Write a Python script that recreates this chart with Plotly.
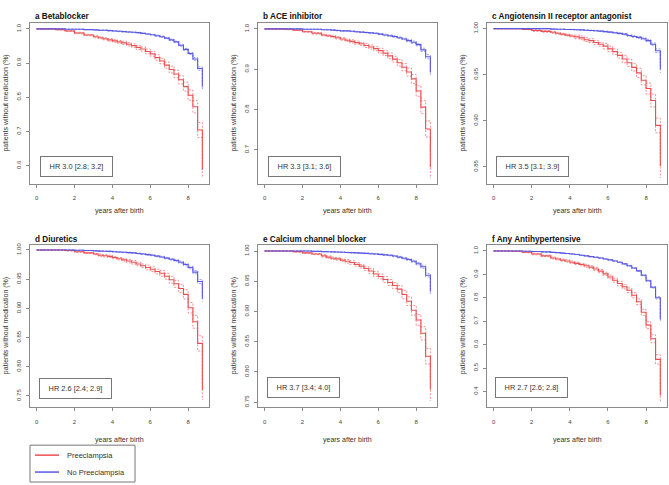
import plotly.graph_objects as go

# time points (years after birth) at which the step curves change
T = [0, 0.5, 1.0, 1.5, 2.0, 2.5, 3.0, 3.25, 3.5, 3.75, 4.0, 4.25, 4.5, 4.75, 5.0,
     5.25, 5.5, 5.75, 6.0, 6.25, 6.5, 6.75, 7.0, 7.25, 7.5, 7.75, 8.0, 8.25, 8.5, 8.75]

panel_titles = ["a Betablocker", "b ACE inhibitor", "c Angiotensin II receptor antagonist",
                "d Diuretics", "e Calcium channel blocker", "f Any Antihypertensive"]
hr_labels = ["HR 3.0 [2.8; 3.2]", "HR 3.3 [3.1; 3.6]", "HR 3.5 [3.1; 3.9]",
             "HR 2.6 [2.4; 2.9]", "HR 3.7 [3.4; 4.0]", "HR 2.7 [2.6; 2.8]"]
series_names = ["Preeclampsia", "No Preeclampsia"]

# Preeclampsia survival (patients without medication)
pe_a = [1.000, 1.000, 0.998, 0.994, 0.988, 0.982, 0.977, 0.974, 0.971, 0.968, 0.965, 0.962, 0.959, 0.955, 0.951,
        0.946, 0.941, 0.934, 0.927, 0.916, 0.906, 0.894, 0.881, 0.868, 0.851, 0.831, 0.806, 0.772, 0.704, 0.588]
pe_b = [1.000, 1.000, 0.999, 0.997, 0.993, 0.989, 0.985, 0.983, 0.981, 0.978, 0.975, 0.972, 0.969, 0.966, 0.963,
        0.959, 0.955, 0.951, 0.946, 0.940, 0.933, 0.925, 0.916, 0.905, 0.893, 0.876, 0.846, 0.806, 0.752, 0.657]
pe_c = [1.000, 1.000, 1.000, 0.999, 0.998, 0.997, 0.996, 0.995, 0.994, 0.993, 0.992, 0.991, 0.990, 0.988, 0.987,
        0.985, 0.983, 0.981, 0.978, 0.975, 0.971, 0.967, 0.963, 0.958, 0.952, 0.944, 0.935, 0.922, 0.895, 0.851]
pe_d = [1.000, 1.000, 1.000, 0.999, 0.997, 0.995, 0.993, 0.991, 0.990, 0.989, 0.987, 0.985, 0.983, 0.981, 0.979,
        0.976, 0.973, 0.970, 0.967, 0.963, 0.960, 0.955, 0.949, 0.942, 0.934, 0.924, 0.901, 0.877, 0.840, 0.760]
pe_e = [1.000, 1.000, 1.000, 0.999, 0.997, 0.995, 0.992, 0.990, 0.988, 0.987, 0.985, 0.983, 0.981, 0.978, 0.975,
        0.971, 0.967, 0.962, 0.958, 0.953, 0.948, 0.943, 0.937, 0.928, 0.917, 0.902, 0.886, 0.864, 0.826, 0.771]
pe_f = [1.000, 1.000, 0.999, 0.995, 0.987, 0.979, 0.970, 0.966, 0.961, 0.957, 0.952, 0.947, 0.942, 0.937, 0.931,
        0.923, 0.914, 0.902, 0.889, 0.875, 0.861, 0.847, 0.832, 0.811, 0.783, 0.738, 0.683, 0.625, 0.537, 0.382]

# Preeclampsia confidence-interval half widths
pe_ci_a = [0, 0, 0.001, 0.001, 0.002, 0.002, 0.003, 0.003, 0.003, 0.004, 0.004, 0.004, 0.005, 0.005, 0.005,
           0.006, 0.006, 0.007, 0.007, 0.008, 0.008, 0.009, 0.010, 0.011, 0.012, 0.013, 0.015, 0.018, 0.022, 0.025]
pe_ci_b = [0, 0, 0.001, 0.001, 0.001, 0.002, 0.002, 0.002, 0.003, 0.003, 0.003, 0.003, 0.004, 0.004, 0.004,
           0.005, 0.005, 0.005, 0.006, 0.006, 0.007, 0.007, 0.008, 0.009, 0.010, 0.011, 0.013, 0.016, 0.020, 0.028]
pe_ci_c = [0, 0, 0, 0, 0.001, 0.001, 0.001, 0.001, 0.001, 0.001, 0.001, 0.002, 0.002, 0.002, 0.002,
           0.002, 0.002, 0.003, 0.003, 0.003, 0.003, 0.004, 0.004, 0.004, 0.005, 0.005, 0.006, 0.007, 0.008, 0.013]
pe_ci_d = [0, 0, 0, 0.001, 0.001, 0.001, 0.001, 0.002, 0.002, 0.002, 0.002, 0.002, 0.002, 0.003, 0.003,
           0.003, 0.003, 0.004, 0.004, 0.004, 0.005, 0.005, 0.006, 0.006, 0.007, 0.008, 0.009, 0.011, 0.013, 0.017]
pe_ci_e = [0, 0, 0, 0.001, 0.001, 0.001, 0.002, 0.002, 0.002, 0.002, 0.002, 0.003, 0.003, 0.003, 0.003,
           0.003, 0.004, 0.004, 0.004, 0.005, 0.005, 0.005, 0.006, 0.007, 0.007, 0.008, 0.009, 0.011, 0.013, 0.019]
pe_ci_f = [0, 0, 0.001, 0.002, 0.003, 0.003, 0.004, 0.004, 0.004, 0.005, 0.005, 0.005, 0.005, 0.006, 0.006,
           0.006, 0.007, 0.007, 0.008, 0.008, 0.009, 0.009, 0.010, 0.011, 0.012, 0.013, 0.015, 0.017, 0.020, 0.025]

# No Preeclampsia survival
np_a = [1.000, 1.000, 1.000, 0.999, 0.999, 0.998, 0.997, 0.996, 0.996, 0.995, 0.994, 0.993, 0.992, 0.991, 0.990,
        0.989, 0.987, 0.985, 0.983, 0.980, 0.977, 0.973, 0.968, 0.962, 0.952, 0.940, 0.928, 0.912, 0.884, 0.831]
np_b = [1.000, 1.000, 1.000, 1.000, 0.999, 0.999, 0.998, 0.998, 0.997, 0.996, 0.995, 0.995, 0.994, 0.993, 0.992,
        0.991, 0.990, 0.989, 0.987, 0.985, 0.983, 0.981, 0.978, 0.975, 0.971, 0.967, 0.961, 0.948, 0.931, 0.892]
np_c = [1.000, 1.000, 1.000, 1.000, 1.000, 1.000, 0.9995, 0.9994, 0.9993, 0.9991, 0.9990, 0.9988, 0.9986, 0.9983, 0.9980,
        0.9977, 0.9973, 0.9968, 0.9962, 0.9955, 0.9948, 0.9940, 0.9925, 0.9915, 0.9905, 0.9890, 0.9870, 0.9830, 0.9760, 0.9560]
np_d = [1.000, 1.000, 1.000, 1.000, 0.9995, 0.999, 0.9985, 0.998, 0.9978, 0.9975, 0.997, 0.9965, 0.996, 0.9955, 0.995,
        0.994, 0.993, 0.992, 0.991, 0.9895, 0.988, 0.986, 0.984, 0.982, 0.979, 0.975, 0.970, 0.962, 0.946, 0.917]
np_e = [1.000, 1.000, 1.000, 1.000, 1.000, 0.9995, 0.999, 0.9988, 0.9986, 0.9983, 0.998, 0.9977, 0.9973, 0.997, 0.9966,
        0.9961, 0.9956, 0.995, 0.9944, 0.9937, 0.993, 0.9918, 0.990, 0.988, 0.986, 0.983, 0.979, 0.974, 0.960, 0.933]
np_f = [1.000, 1.000, 1.000, 0.999, 0.998, 0.996, 0.994, 0.993, 0.991, 0.989, 0.987, 0.985, 0.982, 0.979, 0.976,
        0.973, 0.970, 0.966, 0.962, 0.957, 0.952, 0.945, 0.937, 0.927, 0.915, 0.896, 0.873, 0.845, 0.800, 0.708]

# No Preeclampsia confidence-interval half widths
np_ci_a = [0, 0, 0, 0, 0, 0, 0, 0.001, 0.001, 0.001, 0.001, 0.001, 0.001, 0.001, 0.001,
           0.001, 0.001, 0.001, 0.001, 0.002, 0.002, 0.002, 0.002, 0.002, 0.003, 0.003, 0.003, 0.004, 0.005, 0.008]
np_ci_b = [0, 0, 0, 0, 0, 0, 0, 0.001, 0.001, 0.001, 0.001, 0.001, 0.001, 0.001, 0.001,
           0.001, 0.001, 0.001, 0.001, 0.002, 0.002, 0.002, 0.002, 0.002, 0.003, 0.003, 0.003, 0.004, 0.005, 0.008]
np_ci_c = [0, 0, 0, 0, 0, 0, 0, 0, 0, 0, 0.0003, 0.0003, 0.0003, 0.0004, 0.0004,
           0.0004, 0.0005, 0.0005, 0.0005, 0.0006, 0.0006, 0.0007, 0.0008, 0.0009, 0.0010, 0.0011, 0.0012, 0.0015, 0.0020, 0.0040]
np_ci_d = [0, 0, 0, 0, 0, 0, 0, 0.0005, 0.0005, 0.0005, 0.0006, 0.0006, 0.0006, 0.0007, 0.0007,
           0.0008, 0.0008, 0.0009, 0.0010, 0.0011, 0.0012, 0.0013, 0.0014, 0.0016, 0.0018, 0.0020, 0.0023, 0.0028, 0.0035, 0.0060]
np_ci_e = [0, 0, 0, 0, 0, 0, 0, 0.0004, 0.0004, 0.0004, 0.0005, 0.0005, 0.0005, 0.0006, 0.0006,
           0.0006, 0.0007, 0.0007, 0.0008, 0.0009, 0.0010, 0.0011, 0.0012, 0.0013, 0.0015, 0.0017, 0.0020, 0.0024, 0.0030, 0.0050]
np_ci_f = [0, 0, 0, 0, 0, 0, 0, 0.0005, 0.0005, 0.0006, 0.0006, 0.0007, 0.0007, 0.0008, 0.0008,
           0.0009, 0.0010, 0.0011, 0.0012, 0.0013, 0.0014, 0.0016, 0.0018, 0.0020, 0.0022, 0.0025, 0.0030, 0.0035, 0.0050, 0.0080]

# y tick labels per panel
yticks_a = ["0.6", "0.7", "0.8", "0.9", "1.0"]
yticks_b = ["0.7", "0.8", "0.9", "1.0"]
yticks_c = ["0.85", "0.90", "0.95", "1.00"]
yticks_d = ["0.75", "0.80", "0.85", "0.90", "0.95", "1.00"]
yticks_e = ["0.75", "0.80", "0.85", "0.90", "0.95", "1.00"]
yticks_f = ["0.4", "0.5", "0.6", "0.7", "0.8", "0.9", "1.0"]
xticks = ["0", "2", "4", "6", "8"]

pe_list = [pe_a, pe_b, pe_c, pe_d, pe_e, pe_f]
pe_ci_list = [pe_ci_a, pe_ci_b, pe_ci_c, pe_ci_d, pe_ci_e, pe_ci_f]
np_list = [np_a, np_b, np_c, np_d, np_e, np_f]
np_ci_list = [np_ci_a, np_ci_b, np_ci_c, np_ci_d, np_ci_e, np_ci_f]
ytick_list = [yticks_a, yticks_b, yticks_c, yticks_d, yticks_e, yticks_f]

# ---------------- layout / styling ----------------
W, H = 669, 485
FONT = "Liberation Sans, Arial, Helvetica, sans-serif"
RED = "rgb(238,78,80)"
RED_CI = "rgba(236,110,112,0.75)"
BLUE = "rgb(88,88,228)"
BLUE_CI = "rgba(120,120,232,0.7)"
AXC = "#8a8a8a"
TXT = "#333333"

col_px = [(30, 209), (258, 437), (487, 667)]
row_px = [(21, 183), (244, 407)]
xtitle_y = [210, 440]
yranges = [[0.5455, 1.0175], [0.615, 1.0148], [0.8312, 1.0062],
           [0.7305, 1.0085], [0.7415, 1.0100], [0.332, 1.0256]]
xrange_ = [-0.35, 9.1]
hr_pos = [(0.258, 0.113), (0.258, 0.113), (0.25, 0.108),
          (0.253, 0.118), (0.253, 0.12), (0.246, 0.122)]

fig = go.Figure()
annotations = []
shapes = []

for i in range(6):
    r, c = divmod(i, 3)
    xa = "x" if i == 0 else f"x{i+1}"
    ya = "y" if i == 0 else f"y{i+1}"
    pe, pci, npv, nci = pe_list[i], pe_ci_list[i], np_list[i], np_ci_list[i]

    for vals, ci, cicol in [(pe, pci, RED_CI), (npv, nci, BLUE_CI)]:
        lo = [v - h for v, h in zip(vals, ci)]
        hi = [v + h for v, h in zip(vals, ci)]
        for band in (lo, hi):
            fig.add_trace(go.Scatter(x=T, y=band, mode="lines", xaxis=xa, yaxis=ya,
                                     line=dict(color=cicol, width=1, dash="2px,1.5px", shape="hv"),
                                     showlegend=False, hoverinfo="skip"))
    for vals, col, name in [(pe, RED, series_names[0]), (npv, BLUE, series_names[1])]:
        fig.add_trace(go.Scatter(x=T, y=vals, mode="lines", xaxis=xa, yaxis=ya, name=name,
                                 line=dict(color=col, width=1.1, shape="hv"),
                                 showlegend=False))

    x0, x1 = col_px[c]
    y0, y1 = row_px[r]
    xdom = [x0 / W, x1 / W]
    ydom = [1 - y1 / H, 1 - y0 / H]
    labels = ytick_list[i]
    axis_common = dict(showline=True, mirror=True, linecolor=AXC, linewidth=1,
                       ticks="outside", ticklen=3, tickcolor=AXC, tickwidth=1,
                       showgrid=False, zeroline=False,
                       tickfont=dict(size=6, color="#444", family=FONT))
    xkey = "xaxis" if i == 0 else f"xaxis{i+1}"
    ykey = "yaxis" if i == 0 else f"yaxis{i+1}"
    fig.update_layout(**{
        xkey: dict(domain=xdom, range=xrange_, anchor=ya, tickmode="array",
                   tickvals=[float(t) for t in xticks], ticktext=xticks,
                   ticklabelstandoff=5, **axis_common),
        ykey: dict(domain=ydom, range=yranges[i], anchor=xa, tickmode="array",
                   tickvals=[float(t) for t in labels], ticktext=labels,
                   tickangle=-90, ticklabelstandoff=3, **axis_common),
    })

    # panel title
    annotations.append(dict(text=f"<b>{panel_titles[i]}</b>", xref="paper", yref="paper",
                            x=(x0 + 3) / W, y=1 - (y0 - 6) / H, xanchor="left", yanchor="middle",
                            showarrow=False, font=dict(size=8.2, color="#111", family=FONT)))
    # x axis title
    annotations.append(dict(text="years after birth", xref="paper", yref="paper",
                            x=(x0 + x1) / 2 / W, y=1 - xtitle_y[r] / H, xanchor="center", yanchor="middle",
                            showarrow=False, font=dict(size=7, color=TXT, family=FONT)))
    # y axis title
    annotations.append(dict(text="patients without medication (%)", xref="paper", yref="paper",
                            x=(x0 - 24) / W, y=1 - (y0 + y1) / 2 / H, xanchor="center", yanchor="middle",
                            textangle=-90, showarrow=False, font=dict(size=7, color=TXT, family=FONT)))
    # hazard ratio box
    hx, hy = hr_pos[i]
    annotations.append(dict(text=hr_labels[i], xref=f"{xa} domain", yref=f"{ya} domain",
                            x=hx, y=hy, xanchor="center", yanchor="middle", showarrow=False,
                            width=65, height=13, borderpad=3, bordercolor="#777", borderwidth=1,
                            bgcolor="white", font=dict(size=7.4, color=TXT, family=FONT)))

# legend box (drawn below panel d)
leg_box = (30, 445, 135, 482)
leg_rows = [455, 472]
shapes.append(dict(type="rect", xref="paper", yref="paper",
                   x0=leg_box[0] / W, x1=leg_box[2] / W, y0=1 - leg_box[3] / H, y1=1 - leg_box[1] / H,
                   line=dict(color="#777", width=1), fillcolor="white"))
for name, col, yy in zip(series_names, [RED, BLUE], leg_rows):
    shapes.append(dict(type="line", xref="paper", yref="paper",
                       x0=35 / W, x1=59 / W, y0=1 - yy / H, y1=1 - yy / H,
                       line=dict(color=col, width=1.5)))
    annotations.append(dict(text=name, xref="paper", yref="paper", x=65 / W, y=1 - yy / H,
                            xanchor="left", yanchor="middle", showarrow=False,
                            font=dict(size=7.5, color=TXT, family=FONT)))

fig.update_layout(
    width=W, height=H, margin=dict(l=0, r=0, t=0, b=0),
    paper_bgcolor="white", plot_bgcolor="white",
    annotations=annotations, shapes=shapes,
    showlegend=False,
    font=dict(family=FONT),
)

fig.write_html("out.html", config={"displayModeBar": False},
               post_script="document.body.style.margin='0';document.body.style.overflow='hidden';")
